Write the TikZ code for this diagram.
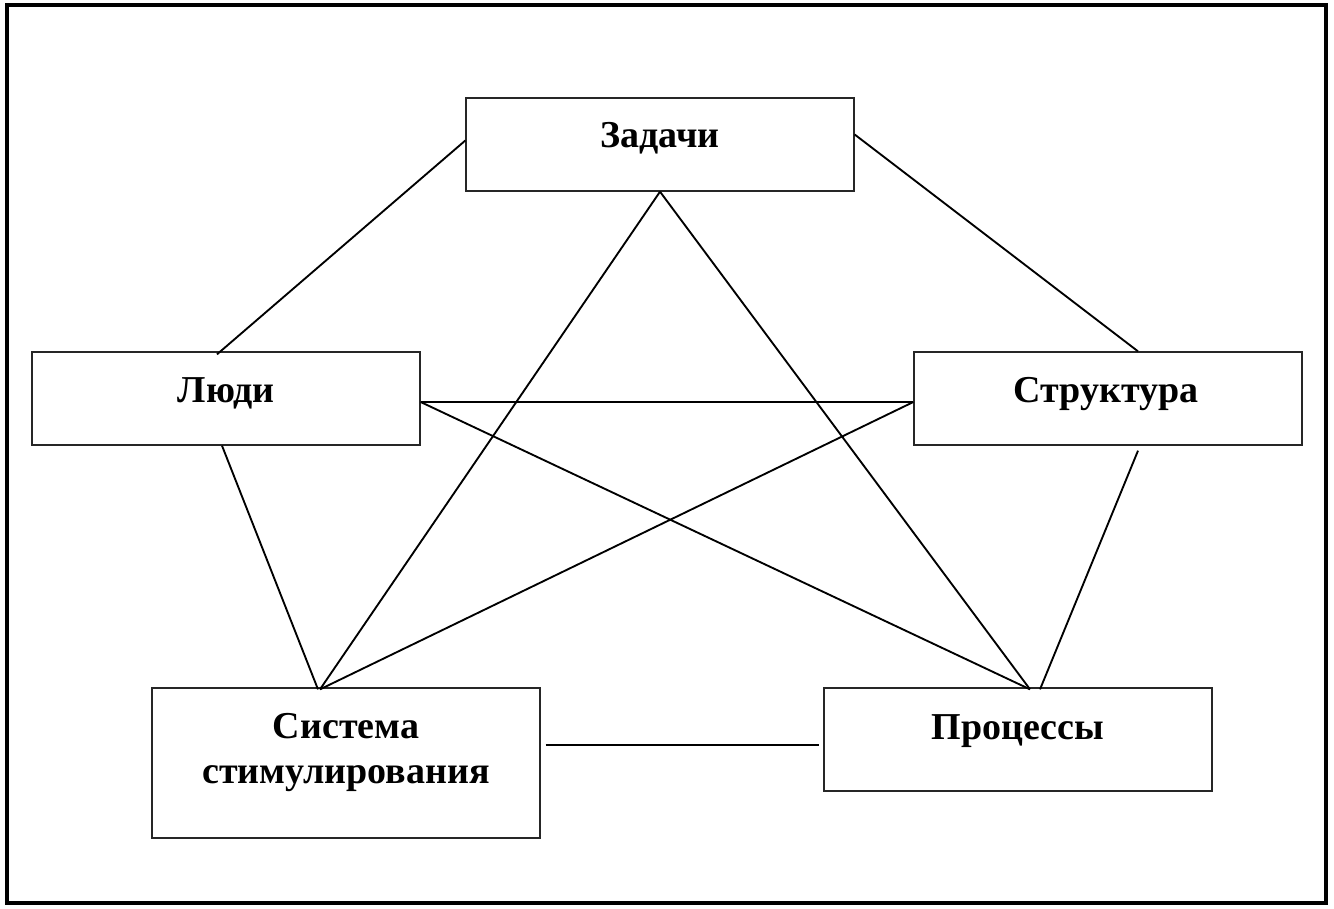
\documentclass[tikz,border=0pt]{standalone}
\usepackage{fontspec}
\setmainfont{Liberation Serif}
\usetikzlibrary{calc}
\begin{document}
\begin{tikzpicture}[x=0.75pt,y=-0.75pt,
  box/.style={draw=black!85,line width=1pt,inner sep=0pt,minimum width=291pt},
  lbl/.style={font=\fontsize{28.5}{33.75}\selectfont\bfseries,anchor=base,align=center,inner sep=0pt},
  conn/.style={line width=1.4pt}]
\useasboundingbox (0,0) rectangle (1334,908);
\draw[line width=2.3pt] (7,5) rectangle (1326,903);
% boxes
\node[box,minimum height=69.75pt] (zad) at (660,144.5) {};
\node[box,minimum height=69.75pt] (ludi) at (226,398.5) {};
\node[box,minimum height=69.75pt] (str) at (1108,398.5) {};
\node[box,minimum height=112.5pt] (sys) at (346,763) {};
\node[box,minimum height=77.25pt] (proc) at (1018,739.5) {};
% labels
\node[lbl] (tzad) at (660,147) {Задачи};
\node[lbl] (tludi) at (226,402) {Люди};
\node[lbl] (tstr) at (1106,402) {Структура};
\node[lbl,anchor=north] (tsys) at (346,713) {Система\\стимулирования};
\node[lbl] (tproc) at (1018,739) {Процессы};
% connectors
\draw[conn] ($(zad.west)+(0,-4)$) -- ($(ludi.north)+(-9,3)$);
\draw[conn] ($(zad.east)+(0,-10)$) -- ($(str.north)+(30,0)$);
\draw[conn] (zad.south) -- ($(sys.north)+(-26,2)$);
\draw[conn] (zad.south) -- ($(proc.north)+(12,2)$);
\draw[conn] ($(ludi.east)+(0,3.5)$) -- ($(str.west)+(0,3.5)$);
\draw[conn] ($(ludi.east)+(0,3.5)$) -- ($(proc.north)+(12,2)$);
\draw[conn] ($(str.west)+(0,3.5)$) -- ($(sys.north)+(-26,2)$);
\draw[conn] ($(ludi.south)+(-4,0)$) -- ($(sys.north)+(-28,2)$);
\draw[conn] ($(str.south)+(30,5)$) -- ($(proc.north)+(22,2)$);
\draw[conn] ($(sys.east)+(5,-18)$) -- ($(proc.west)+(-4,5.5)$);
\end{tikzpicture}
\end{document}
